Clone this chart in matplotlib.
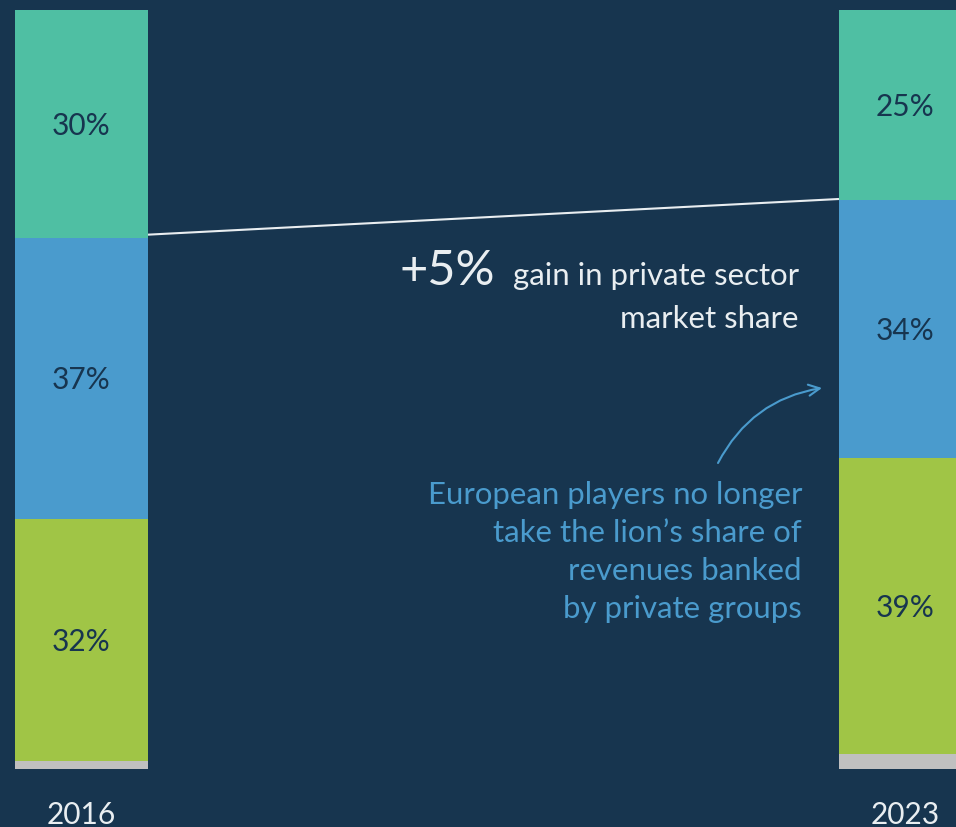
import matplotlib
matplotlib.use("Agg")
import matplotlib.pyplot as plt
from matplotlib.patches import FancyArrowPatch
import numpy as np

# ---- data ----
years = ["2016", "2023"]
# stacked from bottom to top
segments = ["Other", "Private (non-European)", "Private (European)", "Public"]
gray_vals = [1, 2]
green_vals = [32, 39]
blue_vals = [37, 34]
teal_vals = [30, 25]

BG = "#17354f"
TEAL = "#4fbfa3"
BLUE = "#4a9bcd"
GREEN = "#a0c546"
GRAY = "#c0c0c0"
LABEL_DARK = "#17354f"
WHITE = "#e9eef1"

W, H = 956, 827
fig = plt.figure(figsize=(W / 100, H / 100), dpi=100, facecolor=BG)
ax = fig.add_axes([0, 0, 1, 1])
ax.set_facecolor(BG)
ax.axis("off")

FONT = "Lato"
WT = "normal"

# axis geometry (bars at px 81.5 and 905.5, 824 px per unit; 0..100 -> px 769..10)
px_per_unit_x = 824.0
ax.set_xlim(-81.5 / px_per_unit_x, (W - 81.5) / px_per_unit_x)
ppy = 759 / 100.0
ax.set_ylim(-(H - 769) / ppy, 100 + 10 / ppy)

x = np.arange(len(years))
width = 133 / px_per_unit_x

stack = [gray_vals, green_vals, blue_vals, teal_vals]
colors = [GRAY, GREEN, BLUE, TEAL]
bottom = np.zeros(len(years))
for vals, c in zip(stack, colors):
    vals = np.array(vals, dtype=float)
    ax.bar(x, vals, bottom=bottom, width=width, color=c, edgecolor="none")
    if c != GRAY:
        for xi, b, v in zip(x, bottom, vals):
            ax.text(xi, b + v / 2 - 0.3, f"{int(v)}%", ha="center", va="center",
                    fontsize=21.5, color=LABEL_DARK, family=FONT, weight=WT)
    bottom += vals

# year labels
for xi, yr in zip(x, years):
    ax.text(xi, -6.0, yr, ha="center", va="center", fontsize=21.5,
            color=WHITE, family=FONT, weight=WT)

# connector line between tops of blue segments
blue_top = np.array(gray_vals) + np.array(green_vals) + np.array(blue_vals)
ax.plot([x[0] + width / 2, x[1] - width / 2], [blue_top[0] + 0.4, blue_top[1] + 0.1],
        color=WHITE, lw=1.5, solid_capstyle="butt")


def fp(px, py):
    return (px / W, 1 - py / H)


# annotation: +5% gain
fig.text(*fp(399, 285), "+5%", ha="left", va="baseline", fontsize=35,
         color=WHITE, family=FONT, weight=WT)
fig.text(*fp(799, 285), "gain in private sector", ha="right", va="baseline",
         fontsize=22.4, color=WHITE, family=FONT, weight=WT)
fig.text(*fp(799, 328), "market share", ha="right", va="baseline",
         fontsize=22.4, color=WHITE, family=FONT, weight=WT)

# blue note
note_lines = ["European players no longer", "take the lion\u2019s share of",
              "revenues banked", "by private groups"]
for i, line in enumerate(note_lines):
    fig.text(*fp(802, 504 + 38 * i), line, ha="right", va="baseline",
             fontsize=22.4, color=BLUE, family=FONT, weight=WT)

arrow = FancyArrowPatch(posA=fp(718, 463), posB=fp(822, 388),
                        transform=fig.transFigure,
                        connectionstyle="arc3,rad=-0.25",
                        arrowstyle="->,head_length=8,head_width=4",
                        color=BLUE, lw=1.5, shrinkA=0, shrinkB=0)
fig.patches.append(arrow)

fig.savefig("out.png", dpi=100, facecolor=BG)
